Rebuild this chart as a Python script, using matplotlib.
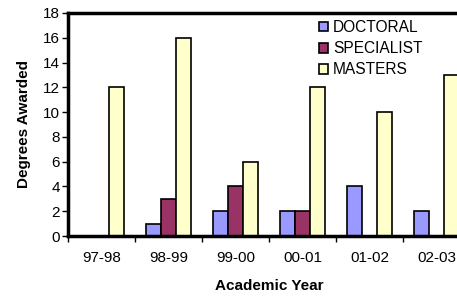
import matplotlib
matplotlib.use("Agg")
import matplotlib.pyplot as plt
import numpy as np

plt.rcParams['font.family'] = ['Liberation Sans', 'DejaVu Sans']

years = ["97-98", "98-99", "99-00", "00-01", "01-02", "02-03"]
doctoral = [0, 1, 2, 2, 4, 2]
specialist = [0, 3, 4, 2, 0, 0]
masters = [12, 16, 6, 12, 10, 13]
series_names = ["DOCTORAL", "SPECIALIST", "MASTERS"]
colors = ["#9999FF", "#993366", "#FFFFCC"]

W, H = 457, 296
fig = plt.figure(figsize=(W/100, H/100), dpi=100)
left, right, top, bottom = 68, 470, 13, 236
ax = fig.add_axes([left/W, 1-bottom/H, (right-left)/W, (bottom-top)/H])

x = np.arange(len(years))
bw = 1/4.5
for i, (vals, name, c) in enumerate(zip([doctoral, specialist, masters], series_names, colors)):
    ax.bar(x + (i-1)*bw, vals, width=bw, color=c, edgecolor='black', linewidth=1.2, label=name)

ax.set_xlim(-0.5, len(years)-0.5)
ax.set_ylim(0, 18)
ax.set_yticks(range(0, 19, 2))
ax.set_xticks(x)
ax.set_xticklabels(years, fontsize=11)
ax.set_xticks(np.arange(-0.5, len(years), 1), minor=True)
ax.tick_params(axis='x', which='major', length=0, pad=11)
ax.tick_params(axis='x', which='minor', length=4, width=1, direction='out')
ax.tick_params(axis='y', labelsize=11, length=4, width=1, direction='out', pad=2)

for s in ['left', 'top', 'bottom']:
    ax.spines[s].set_linewidth(2.5)
ax.spines['right'].set_visible(False)

ax.set_ylabel("Degrees Awarded", fontsize=11, fontweight='bold', labelpad=8.5)
ax.set_xlabel("Academic Year", fontsize=11, fontweight='bold', labelpad=10)

leg = ax.legend(loc='upper left', bbox_to_anchor=((319-left)/(right-left), 1-(20-top)/(bottom-top)),
                frameon=False, fontsize=11.2, handlelength=0.6, handleheight=0.6,
                handletextpad=0.3, labelspacing=0.4, borderaxespad=0, borderpad=0)

fig.savefig("out.png", dpi=100)
